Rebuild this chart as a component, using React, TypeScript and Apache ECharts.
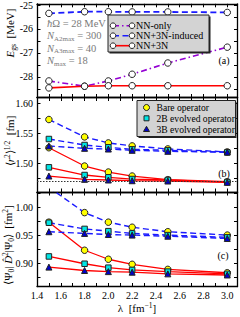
import React, { useEffect, useRef } from 'react';
import * as echarts from 'echarts';

// ---------- data ----------
const lambdas = [1.5, 1.8, 2.0, 2.2, 2.5, 3.0];

// panel (a): ground-state energy [MeV]
const egsNNonly = [-28.17, -28.39, -28.17, -27.89, -27.42, -26.76];
const egsInduced = [-25.35, -25.28, -25.28, -25.29, -25.29, -25.31];
const egsFull = [-28.46, -28.39, -28.37, -28.37, -28.37, -28.37];

// panel (b): rms radius [fm]
const r2IndBare = [1.573, 1.544, 1.534, 1.529, 1.524, 1.519];
const r2Ind2B = [1.5405, 1.5305, 1.5267, 1.5233, 1.5217, 1.5183];
const r2Ind3B = [1.5288, 1.525, 1.5238, 1.5217, 1.52, 1.5188];
const r2FullBare = [1.526, 1.4955, 1.4855, 1.4788, 1.4727, 1.4693];
const r2Full2B = [1.4933, 1.4805, 1.4767, 1.4738, 1.4722, 1.4688];
const r2Full3B = [1.4788, 1.4733, 1.4722, 1.471, 1.4705, 1.4683];
const r2Reference = 1.4667;

// panel (c): <D^2> [fm^2]
const d2IndBare = [1.035, 0.99, 0.973, 0.964, 0.956, 0.95];
const d2Ind2B = [0.972, 0.961, 0.957, 0.953, 0.95, 0.946];
const d2Ind3B = [0.956, 0.953, 0.951, 0.95, 0.948, 0.944];
const d2FullBare = [0.973, 0.923, 0.907, 0.898, 0.889, 0.883];
const d2Full2B = [0.912, 0.899, 0.892, 0.888, 0.885, 0.881];
const d2Full3B = [0.893, 0.887, 0.885, 0.884, 0.881, 0.879];

// ticks
const xTicks = [1.4, 1.5, 1.6, 1.7, 1.8, 1.9, 2.0, 2.1, 2.2, 2.3, 2.4, 2.5, 2.6, 2.7, 2.8, 2.9, 3.0];
const xLabels = [1.4, 1.6, 1.8, 2.0, 2.2, 2.4, 2.6, 2.8, 3.0];
const egsTicks = [-28.5, -28, -27.5, -27, -26.5, -26, -25.5, -25];
const egsLabels = [-28, -27, -26, -25];
const r2Ticks = [1.475, 1.5, 1.525, 1.55, 1.575, 1.6];
const r2Labels = [1.5, 1.55, 1.6];
const d2Ticks = [0.875, 0.9, 0.925, 0.95, 0.975, 1.0, 1.025];
const d2Labels = [0.9, 0.95, 1.0];

const X_MIN = 1.4;
const X_MAX = 3.086;
const EGS_RANGE = [-28.86, -24.95];
const R2_RANGE = [1.4522, 1.6097];
const D2_RANGE = [0.8585, 1.0267];

const legendA = ['NN-only', 'NN+3N-induced', 'NN+3N'];
const legendB = ['Bare operator', '2B evolved operator', '3B evolved operator'];

const FONT = 'Liberation Serif';
const BLUE = '#1a1aff';
const RED = '#ff0000';
const PURPLE = '#9400d3';
const YELLOW = '#ffff00';
const CYAN = '#00e5e5';
const DBLUE = '#0000cc';

const App: React.FC = () => {
  const ref = useRef<HTMLDivElement>(null);

  useEffect(() => {
    if (!ref.current) return;
    const chart = echarts.init(ref.current, undefined, { renderer: 'svg' });

    const grids = [
      { left: 37, top: 3, width: 200.5, height: 94.5 },
      { left: 37, top: 97.5, width: 200.5, height: 94.5 },
      { left: 37, top: 192, width: 200.5, height: 94.5 },
    ];
    const yRanges = [EGS_RANGE, R2_RANGE, D2_RANGE];
    const yTicks = [egsTicks, r2Ticks, d2Ticks];
    const yLabels = [egsLabels, r2Labels, d2Labels];
    const yFmt = [(v: number) => String(v), (v: number) => v.toFixed(2), (v: number) => v.toFixed(2)];

    const axisLine = { show: true, onZero: false, lineStyle: { color: '#000', width: 1.3 } };
    const tickStyle = { color: '#000', width: 1 };
    const labelStyle = { fontFamily: FONT, fontSize: 10, color: '#000' };

    const xAxes: any[] = [];
    const yAxes: any[] = [];
    for (let i = 0; i < 3; i++) {
      xAxes.push({
        gridIndex: i, type: 'value', position: 'bottom', min: X_MIN, max: X_MAX,
        axisLine, splitLine: { show: false },
        axisTick: { show: true, inside: true, length: 3.5, customValues: xTicks, lineStyle: tickStyle },
        axisLabel: i === 2
          ? { show: true, customValues: xLabels, margin: 4, formatter: (v: number) => v.toFixed(1), ...labelStyle }
          : { show: false },
      });
      xAxes.push({
        gridIndex: i, type: 'value', position: 'top', min: X_MIN, max: X_MAX,
        axisLine, splitLine: { show: false },
        axisTick: { show: true, inside: true, length: 3.5, customValues: xTicks, lineStyle: tickStyle },
        axisLabel: { show: false },
      });
      yAxes.push({
        gridIndex: i, type: 'value', position: 'left', min: yRanges[i][0], max: yRanges[i][1],
        axisLine, splitLine: { show: false },
        axisTick: { show: true, inside: true, length: 3.5, customValues: yTicks[i], lineStyle: tickStyle },
        axisLabel: { show: true, customValues: yLabels[i], margin: 4, formatter: yFmt[i], ...labelStyle },
      });
      yAxes.push({
        gridIndex: i, type: 'value', position: 'right', min: yRanges[i][0], max: yRanges[i][1],
        axisLine, splitLine: { show: false },
        axisTick: { show: true, inside: true, length: 3.5, customValues: yTicks[i], lineStyle: tickStyle },
        axisLabel: { show: false },
      });
    }

    const mk = (
      name: string, panel: number, vals: number[], lineColor: string, dash: any, width: number,
      symbol: string, fill: string, size: number, extra: any = {}
    ) => ({
      name, type: 'line', xAxisIndex: panel * 2, yAxisIndex: panel * 2,
      data: lambdas.map((x, k) => [x, vals[k]]),
      symbol, symbolSize: size, showSymbol: true, clip: true,
      lineStyle: { color: lineColor, width, type: dash },
      itemStyle: { color: fill, borderColor: '#222', borderWidth: 1 },
      emphasis: { disabled: true },
      z: 2,
      ...extra,
    });

    const dashB = [6, 3.5];
    const dashDot = [6, 3, 1.5, 3];

    const series: any[] = [
      mk('NN-only', 0, egsNNonly, PURPLE, dashDot, 1.6, 'circle', '#fff', 6.5),
      mk('NN+3N-induced', 0, egsInduced, BLUE, dashB, 1.8, 'circle', '#fff', 6.5),
      mk('NN+3N', 0, egsFull, RED, 'solid', 1.6, 'circle', '#fff', 6.5),

      mk('r2 ind bare', 1, r2IndBare, BLUE, dashB, 1.4, 'circle', YELLOW, 6.5, {
        markLine: {
          silent: true, symbol: 'none', label: { show: false }, animation: false,
          lineStyle: { color: '#333', width: 1, type: [1.5, 1.5] },
          data: [{ yAxis: r2Reference }],
        },
      }),
      mk('r2 full bare', 1, r2FullBare, RED, 'solid', 1.3, 'circle', YELLOW, 6.5),
      mk('r2 ind 2B', 1, r2Ind2B, BLUE, dashB, 1.4, 'rect', CYAN, 5.5),
      mk('r2 full 2B', 1, r2Full2B, RED, 'solid', 1.3, 'rect', CYAN, 5.5),
      mk('r2 ind 3B', 1, r2Ind3B, BLUE, dashB, 1.4, 'triangle', DBLUE, 6),
      mk('r2 full 3B', 1, r2Full3B, RED, 'solid', 1.3, 'triangle', DBLUE, 6),

      mk('d2 ind bare', 2, d2IndBare, BLUE, dashB, 1.4, 'circle', YELLOW, 6.5),
      mk('d2 full bare', 2, d2FullBare, RED, 'solid', 1.3, 'circle', YELLOW, 6.5),
      mk('d2 ind 2B', 2, d2Ind2B, BLUE, dashB, 1.4, 'rect', CYAN, 5.5),
      mk('d2 full 2B', 2, d2Full2B, RED, 'solid', 1.3, 'rect', CYAN, 5.5),
      mk('d2 ind 3B', 2, d2Ind3B, BLUE, dashB, 1.4, 'triangle', DBLUE, 6),
      mk('d2 full 3B', 2, d2Full3B, RED, 'solid', 1.3, 'triangle', DBLUE, 6),
    ];

    const rich = {
      n: { fontFamily: FONT, fontSize: 11, lineHeight: 14, verticalAlign: 'middle' },
      i: { fontFamily: FONT, fontSize: 11, lineHeight: 14, fontStyle: 'italic', verticalAlign: 'middle' },
      sub: { fontFamily: FONT, fontSize: 7.5, lineHeight: 8, verticalAlign: 'bottom' },
      sup: { fontFamily: FONT, fontSize: 7.5, lineHeight: 8, verticalAlign: 'top' },
    };
    const GRAY = '#7a7a7a';
    const grayRich = {
      i: { fontFamily: FONT, fontSize: 10.5, lineHeight: 13, fontStyle: 'italic', verticalAlign: 'middle', fill: GRAY },
      sub: { fontFamily: FONT, fontSize: 7, lineHeight: 7, verticalAlign: 'bottom', fill: GRAY },
      n: { fontFamily: FONT, fontSize: 10.5, lineHeight: 13, verticalAlign: 'middle', fill: GRAY },
    };

    const rotTitle = (x: number, y: number, text: string) => ({
      type: 'text', x, y, rotation: Math.PI / 2, z: 10,
      style: { text, rich, font: `11px "${FONT}"`, fill: '#000', align: 'center', verticalAlign: 'middle' },
    });

    const annot = (y: number, text: string) => ({
      type: 'text', x: 47, y, z: 10,
      style: { text, rich: grayRich, font: `10.5px "${FONT}"`, fill: GRAY, align: 'left', verticalAlign: 'middle' },
    });

    const legendAColors = [PURPLE, BLUE, RED];
    const legendADash = [dashDot, dashB, null];
    const legendAElems: any[] = [
      { type: 'rect', shape: { x: 109.5, y: 16.5, width: 101, height: 37 }, style: { fill: '#222' }, z: 20 },
      { type: 'rect', shape: { x: 108, y: 15, width: 101, height: 37 }, style: { fill: '#d3d3d3', stroke: '#222', lineWidth: 1 }, z: 21 },
    ];
    legendA.forEach((t, k) => {
      const ry = 25.7 + k * 10;
      legendAElems.push({
        type: 'line', shape: { x1: 113, y1: ry, x2: 132, y2: ry }, z: 22,
        style: { stroke: legendAColors[k], lineWidth: 1.6, lineDash: legendADash[k] || undefined },
      });
      [113, 132].forEach((cx) => legendAElems.push({
        type: 'circle', shape: { cx, cy: ry, r: 2.8 }, z: 23,
        style: { fill: '#fff', stroke: '#222', lineWidth: 1 },
      }));
      legendAElems.push({
        type: 'text', x: 136, y: ry, z: 23,
        style: { text: t, font: `10px "${FONT}"`, fill: '#000', align: 'left', verticalAlign: 'middle' },
      });
    });

    const legendBElems: any[] = [
      { type: 'rect', shape: { x: 138.5, y: 102, width: 98, height: 36 }, style: { fill: '#222' }, z: 20 },
      { type: 'rect', shape: { x: 137, y: 100.5, width: 98.5, height: 36 }, style: { fill: '#d3d3d3', stroke: '#222', lineWidth: 1 }, z: 21 },
      { type: 'circle', shape: { cx: 146.5, cy: 107.5, r: 3 }, z: 23, style: { fill: YELLOW, stroke: '#222', lineWidth: 1 } },
      { type: 'rect', shape: { x: 144, y: 115.8, width: 5, height: 5 }, z: 23, style: { fill: CYAN, stroke: '#222', lineWidth: 1 } },
      { type: 'polygon', shape: { points: [[146.5, 126.3], [143.5, 131.5], [149.5, 131.5]] }, z: 23, style: { fill: DBLUE, stroke: '#222', lineWidth: 1 } },
    ];
    legendB.forEach((t, k) => {
      legendBElems.push({
        type: 'text', x: 156.5, y: 107.5 + k * 10.8, z: 23,
        style: { text: t, font: `9.6px "${FONT}"`, fill: '#000', align: 'left', verticalAlign: 'middle' },
      });
    });

    const panelLabel = (x: number, y: number, t: string) => ({
      type: 'text', x, y, z: 10,
      style: { text: t, font: `10px "${FONT}"`, fill: '#000', align: 'center', verticalAlign: 'middle' },
    });

    const graphic: any[] = [
      rotTitle(10, 33, '{i|E}{sub|gs}  {n|[MeV]}'),
      rotTitle(10, 141, '{n|⟨}{i|r}{sup|2}{n|⟩}{sup|1/2}  {n|[fm]}'),
      rotTitle(8, 245, '{n|⟨Ψ}{sub|0}{n|| }{i|D̂}{sup|2}{n||Ψ}{sub|0}{n|⟩}  {n|[fm}{sup|2}{n|]}'),
      {
        type: 'text', x: 137, y: 308, z: 10,
        style: { text: '{n|λ  [fm}{sup|−1}{n|]}', rich, font: `11px "${FONT}"`, fill: '#000', align: 'center', verticalAlign: 'middle' },
      },
      annot(23, '{i|ħ}{n|Ω = 28 MeV}'),
      annot(35.5, '{i|N}{sub|A2max}{n| = 300}'),
      annot(48, '{i|N}{sub|A3max}{n| = 40}'),
      annot(60.5, '{i|N}{sub|max}{n| = 18}'),
      ...legendAElems,
      ...legendBElems,
      panelLabel(224, 60, '(a)'),
      panelLabel(224, 173.5, '(b)'),
      panelLabel(223, 255, '(c)'),
    ];

    chart.setOption({
      animation: false,
      backgroundColor: '#fff',
      grid: grids,
      xAxis: xAxes,
      yAxis: yAxes,
      series,
      graphic,
    });

    return () => chart.dispose();
  }, []);

  return <div ref={ref} style={{ width: 240, height: 317, position: 'absolute', left: 0, top: 0 }} />;
};

export default App;
